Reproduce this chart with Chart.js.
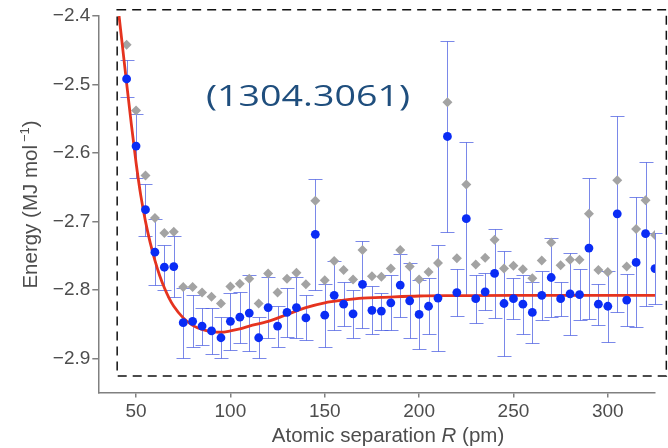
<!DOCTYPE html>
<html>
<head>
<meta charset="utf-8">
<title>Energy vs separation</title>
<script src="https://cdn.jsdelivr.net/npm/chart.js@4.4.1/dist/chart.umd.min.js"></script>
<style>
    html, body { margin: 0; padding: 0; background: #ffffff; }
    #grafico { display: block; }
</style>
</head>
<body>
<canvas id="grafico" width="668" height="448"></canvas>
<script>
// values
var separation = [45, 50, 55, 60, 65, 70, 75, 80, 85, 90, 95, 100, 105, 110, 115, 120, 125, 130, 135, 140,
    145, 150, 155, 160, 165, 170, 175, 180, 185, 190, 195, 200, 205, 210, 215, 220, 225, 230, 235, 240,
    245, 250, 255, 260, 265, 270, 275, 280, 285, 290, 295, 300, 305, 310, 315, 320, 325];

var energyBlue = [-2.492, -2.590, -2.683, -2.745, -2.767, -2.766, -2.848, -2.846, -2.853, -2.860,
    -2.870, -2.846, -2.840, -2.834, -2.870, -2.826, -2.853, -2.833, -2.826, -2.841,
    -2.719, -2.837, -2.808, -2.821, -2.835, -2.792, -2.830, -2.831, -2.819, -2.793,
    -2.816, -2.836, -2.824, -2.812, -2.576, -2.804, -2.696, -2.813, -2.803, -2.776,
    -2.820, -2.813, -2.821, -2.833, -2.808, -2.782, -2.813, -2.806, -2.807, -2.739,
    -2.821, -2.824, -2.689, -2.815, -2.760, -2.718, -2.769];

var errorBlue = [0.027, 0.047, 0.038, 0.048, 0.033, 0.044, 0.051, 0.038, 0.027, 0.034,
    0.030, 0.042, 0.037, 0.055, 0.030, 0.045, 0.030, 0.036, 0.044, 0.033,
    0.081, 0.046, 0.050, 0.032, 0.035, 0.064, 0.035, 0.027, 0.040, 0.046,
    0.055, 0.050, 0.041, 0.077, 0.139, 0.034, 0.112, 0.035, 0.027, 0.065,
    0.076, 0.030, 0.043, 0.044, 0.036, 0.058, 0.025, 0.060, 0.037, 0.103,
    0.030, 0.052, 0.143, 0.038, 0.095, 0.105, 0.052];

var energyGrey = [-2.442, -2.538, -2.633, -2.695, -2.717, -2.715, -2.796, -2.796, -2.804, -2.810,
    -2.820, -2.795, -2.791, -2.784, -2.820, -2.776, -2.804, -2.784, -2.775, -2.792,
    -2.670, -2.786, -2.758, -2.771, -2.785, -2.742, -2.780, -2.781, -2.769, -2.742,
    -2.766, -2.785, -2.774, -2.761, -2.526, -2.754, -2.646, -2.763, -2.753, -2.727,
    -2.769, -2.765, -2.770, -2.783, -2.757, -2.731, -2.764, -2.756, -2.756, -2.689,
    -2.771, -2.774, -2.640, -2.766, -2.711, -2.669, -2.720];

var fitX = [41, 45, 47.5, 50, 52.5, 55, 57.5, 60, 62.5, 65, 67.5, 70, 75, 80, 85, 90, 95, 100, 105, 110,
    120, 130, 140, 150, 160, 170, 180, 200, 220, 250, 325];
var fitY = [-2.400, -2.498, -2.558, -2.614, -2.662, -2.700, -2.731, -2.757, -2.779, -2.797, -2.812, -2.824,
    -2.841, -2.852, -2.858, -2.861, -2.862, -2.860, -2.857, -2.853,
    -2.846, -2.836, -2.826, -2.819, -2.815, -2.812, -2.811, -2.809, -2.8085, -2.808, -2.808];

var ticksX = [50, 100, 150, 200, 250, 300];
var ticksY = [-2.9, -2.8, -2.7, -2.6, -2.5, -2.4];

var frameX = [40, 331];
var frameY = [-2.926, -2.391];

var labelText = "(1304.3061)";
var titleX = ["Atomic separation ", "R", " (pm)"];
var titleY = ["Energy (MJ mol", "\u22121", ")"];


function GetPoints(xs, ys) {
    var points = [];
    var i = 0;
    while (i < xs.length) {
        points.push({ x: xs[i], y: ys[i] });
        i++;
    }
    return points;
}

function DrawErrorBars(chart) {
    var ctx = chart.ctx;
    var sx = chart.scales.x;
    var sy = chart.scales.y;
    ctx.save();
    ctx.strokeStyle = "rgba(70, 90, 225, 0.72)";
    ctx.lineWidth = 1;
    var i = 0;
    while (i < separation.length) {
        var px = Math.round(sx.getPixelForValue(separation[i])) + 0.5;
        var top = Math.round(sy.getPixelForValue(energyBlue[i] + errorBlue[i])) + 0.5;
        var bottom = Math.round(sy.getPixelForValue(energyBlue[i] - errorBlue[i])) + 0.5;
        ctx.beginPath();
        ctx.moveTo(px, top);
        ctx.lineTo(px, bottom);
        ctx.moveTo(px - 7, top);
        ctx.lineTo(px + 7, top);
        ctx.moveTo(px - 7, bottom);
        ctx.lineTo(px + 7, bottom);
        ctx.stroke();
        i++;
    }
    ctx.restore();
}

function DrawFrame(chart) {
    var ctx = chart.ctx;
    var x1 = chart.scales.x.getPixelForValue(frameX[0]);
    var x2 = chart.scales.x.getPixelForValue(frameX[1]);
    var y1 = chart.scales.y.getPixelForValue(frameY[1]);
    var y2 = chart.scales.y.getPixelForValue(frameY[0]);
    ctx.save();
    ctx.strokeStyle = "#111111";
    ctx.lineWidth = 1.5;
    ctx.setLineDash([9, 6]);
    ctx.strokeRect(x1, y1, x2 - x1, y2 - y1);
    ctx.restore();
}

function DrawLabel(chart) {
    var ctx = chart.ctx;
    ctx.save();
    ctx.font = '30px "Open Sans"';
    ctx.fillStyle = "#1f4e7d";
    ctx.textBaseline = "alphabetic";
    var w = ctx.measureText(labelText).width;
    ctx.translate(206, 105.5);
    ctx.scale(204 / w, 1);
    ctx.fillText(labelText, 0, 0);
    ctx.restore();
}

function DrawTitles(chart) {
    var ctx = chart.ctx;
    var normal = '20.5px "Liberation Sans"';
    var italic = 'italic 20.5px "Liberation Sans"';
    var small = '13px "Liberation Sans"';
    ctx.save();
    ctx.fillStyle = "#4d4d4d";
    ctx.textBaseline = "alphabetic";

    // x title, italic R
    ctx.font = normal;
    var w0 = ctx.measureText(titleX[0]).width;
    var w2 = ctx.measureText(titleX[2]).width;
    ctx.font = italic;
    var w1 = ctx.measureText(titleX[1]).width;
    var x = 388 - (w0 + w1 + w2) / 2;
    ctx.font = normal;
    ctx.fillText(titleX[0], x, 441.5);
    ctx.font = italic;
    ctx.fillText(titleX[1], x + w0, 441.5);
    ctx.font = normal;
    ctx.fillText(titleX[2], x + w0 + w1, 441.5);

    // y title, rotated, superscript -1
    ctx.translate(37, 204.5);
    ctx.rotate(-Math.PI / 2);
    ctx.font = normal;
    var a = ctx.measureText(titleY[0]).width;
    var c = ctx.measureText(titleY[2]).width;
    ctx.font = small;
    var b = ctx.measureText(titleY[1]).width;
    var gap = 3;
    var start = -(a + gap + b + c) / 2;
    ctx.font = normal;
    ctx.fillText(titleY[0], start, 0);
    ctx.font = small;
    ctx.fillText(titleY[1], start + a + gap, -8);
    ctx.font = normal;
    ctx.fillText(titleY[2], start + a + gap + b, 0);
    ctx.restore();
}

var extras = {
    id: "extras",
    beforeDatasetsDraw: function (chart) {
        DrawErrorBars(chart);
    },
    afterDraw: function (chart) {
        DrawFrame(chart);
        DrawLabel(chart);
        DrawTitles(chart);
    }
};

var axisColor = "#808080";
var tickFont = { family: "Liberation Sans", size: 19 };

new Chart(document.getElementById("grafico"), {
    type: "scatter",
    data: {
        datasets: [
            {
                label: "blue",
                data: GetPoints(separation, energyBlue),
                backgroundColor: "#0a2cf5",
                pointBorderWidth: 0,
                pointRadius: 4.4,
                order: 0
            },
            {
                type: "line",
                label: "fit",
                data: GetPoints(fitX, fitY),
                borderColor: "#e5331f",
                borderWidth: 2.8,
                pointRadius: 0,
                showLine: true,
                fill: false,
                cubicInterpolationMode: "monotone",
                order: 1
            },
            {
                label: "grey",
                data: GetPoints(separation, energyGrey),
                backgroundColor: "#a3a3a3",
                pointStyle: "rectRot",
                pointBorderWidth: 0,
                pointRadius: 5,
                order: 2
            }
        ]
    },
    options: {
        responsive: false,
        animation: false,
        devicePixelRatio: 1,
        events: [],
        layout: { padding: { left: 0, right: 13, top: 16, bottom: 0 } },
        plugins: {
            legend: { display: false },
            tooltip: { enabled: false }
        },
        scales: {
            x: {
                type: "linear",
                min: 30,
                max: 325,
                afterBuildTicks: function (axis) {
                    axis.ticks = ticksX.map(function (v) { return { value: v }; });
                },
                afterFit: function (axis) { axis.height = 55.5; },
                grid: { drawOnChartArea: false, tickLength: 5, color: axisColor, lineWidth: 1.5 },
                border: { color: axisColor, width: 1.5 },
                ticks: { color: "#4d4d4d", font: tickFont, padding: 3, maxRotation: 0 }
            },
            y: {
                type: "linear",
                min: -2.95,
                max: -2.4,
                afterBuildTicks: function (axis) {
                    axis.ticks = ticksY.map(function (v) { return { value: v }; });
                },
                afterFit: function (axis) { axis.width = 98.3; },
                grid: { drawOnChartArea: false, tickLength: 6, color: axisColor, lineWidth: 1.5 },
                border: { color: axisColor, width: 1.5 },
                ticks: {
                    color: "#4d4d4d",
                    font: tickFont,
                    padding: 2,
                    callback: function (v) { return "\u2212" + Math.abs(v).toFixed(1); }
                }
            }
        }
    },
    plugins: [extras]
});
</script>
</body>
</html>
